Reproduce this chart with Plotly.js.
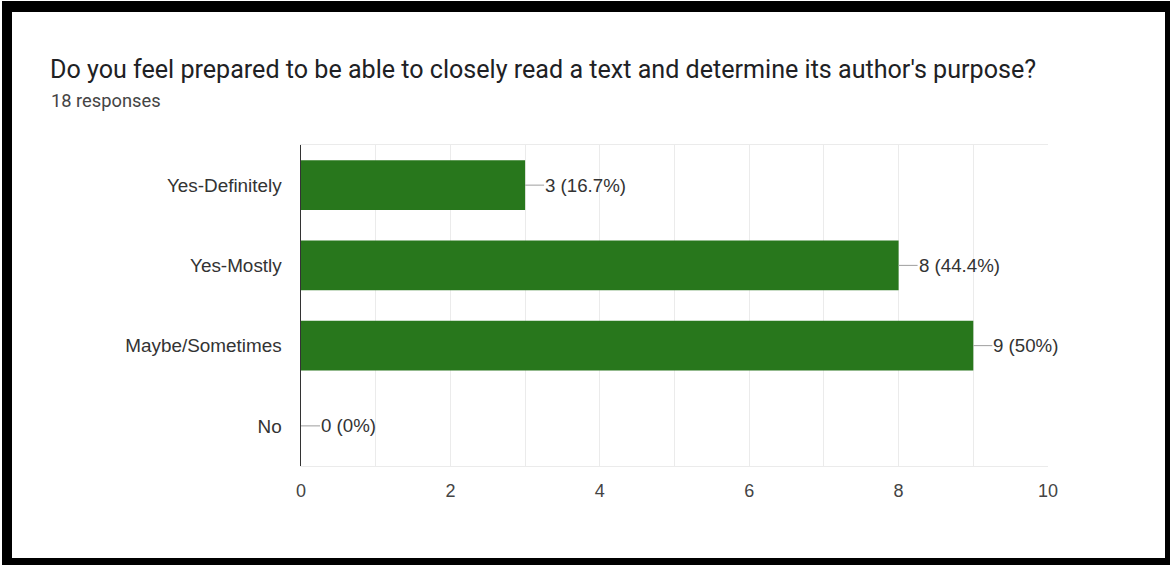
<!DOCTYPE html>
<html>
<head>
<meta charset="utf-8">
<script src="https://cdn.plot.ly/plotly-3.0.1.min.js"></script>
<style>
  html, body { margin: 0; padding: 0; background: #ffffff; }
  #wrap { position: relative; width: 1170px; height: 565px; overflow: hidden; }
  #chart { position: absolute; left: 0; top: 0; width: 1170px; height: 565px; }
  #frame { position: absolute; left: 2px; top: 1px; width: 1168px; height: 564px;
           box-sizing: border-box; border-style: solid; border-color: #000;
           border-width: 11px 5px 7px 10px; pointer-events: none; }
</style>
</head>
<body>
<div id="wrap">
  <div id="chart"></div>
  <div id="frame"></div>
</div>
<script>
const titleText = "Do you feel prepared to be able to closely read a text and determine its author's purpose?";
const responsesText = "18 responses";
const categories = ["Yes-Definitely", "Yes-Mostly", "Maybe/Sometimes", "No"];
const counts = [3, 8, 9, 0];
const totalResponses = 18;
const xTickVals = [0, 2, 4, 6, 8, 10];

function pct(v) {
  const p = Math.round(v / totalResponses * 1000) / 10;
  return (Number.isInteger(p) ? p.toFixed(0) : p.toFixed(1)) + "%";
}
const labels = counts.map(v => v + " (" + pct(v) + ")");

const W = 1170, H = 565;
const margin = { l: 301, r: 122, t: 145, b: 99, pad: 0 };
const plotW = W - margin.l - margin.r;
const plotH = H - margin.t - margin.b;

const annotations = categories.map((c, i) => ({
  x: counts[i], y: c, xref: "x", yref: "y",
  text: labels[i], showarrow: true, arrowhead: 0, arrowwidth: 1,
  arrowcolor: "#9e9e9e", ax: 19, ay: 0, standoff: 0, startstandoff: 0,
  xanchor: "left", yanchor: "middle", borderpad: 0,
  font: { family: "Liberation Sans, Arial, sans-serif", size: 18.7, color: "#333333" }
}));

annotations.push({
  xref: "paper", yref: "paper",
  x: (49 - margin.l) / plotW, y: 1 + (margin.t - 100) / plotH,
  xanchor: "left", yanchor: "middle", showarrow: false,
  text: responsesText,
  font: { family: "Roboto, sans-serif", size: 18.3, color: "#444444" }
});

const trace = {
  type: "bar", orientation: "h",
  y: categories, x: counts,
  marker: { color: "#28771c" },
  hoverinfo: "skip"
};

const layout = {
  width: W, height: H,
  margin: margin,
  paper_bgcolor: "#ffffff", plot_bgcolor: "#ffffff",
  showlegend: false,
  bargap: 0.38,
  title: {
    text: titleText,
    xref: "container", yref: "container",
    x: 50 / W, xanchor: "left",
    y: 1 - 69 / H, yanchor: "middle",
    font: { family: "Roboto, sans-serif", size: 25.1, color: "#202124" }
  },
  xaxis: {
    range: [0, 10],
    tickvals: xTickVals,
    ticktext: xTickVals.map(String),
    showgrid: true, gridcolor: "#ebebeb", gridwidth: 1,
    minor: { dtick: 1, showgrid: true, gridcolor: "#ebebeb", gridwidth: 1 },
    zeroline: false,
    showline: true, linecolor: "#ebebeb", linewidth: 1, mirror: true,
    ticks: "", ticklabelstandoff: 8,
    tickfont: { family: "Liberation Sans, Arial, sans-serif", size: 18, color: "#444444" },
    fixedrange: true
  },
  yaxis: {
    type: "category",
    autorange: "reversed",
    showgrid: false,
    zeroline: false,
    showline: true, linecolor: "#333333", linewidth: 1.5,
    ticks: "", ticklabelstandoff: 14,
    tickfont: { family: "Liberation Sans, Arial, sans-serif", size: 18.9, color: "#333333" },
    fixedrange: true
  },
  annotations: annotations
};

Plotly.newPlot("chart", [trace], layout, { displayModeBar: false, staticPlot: true });
</script>
</body>
</html>
